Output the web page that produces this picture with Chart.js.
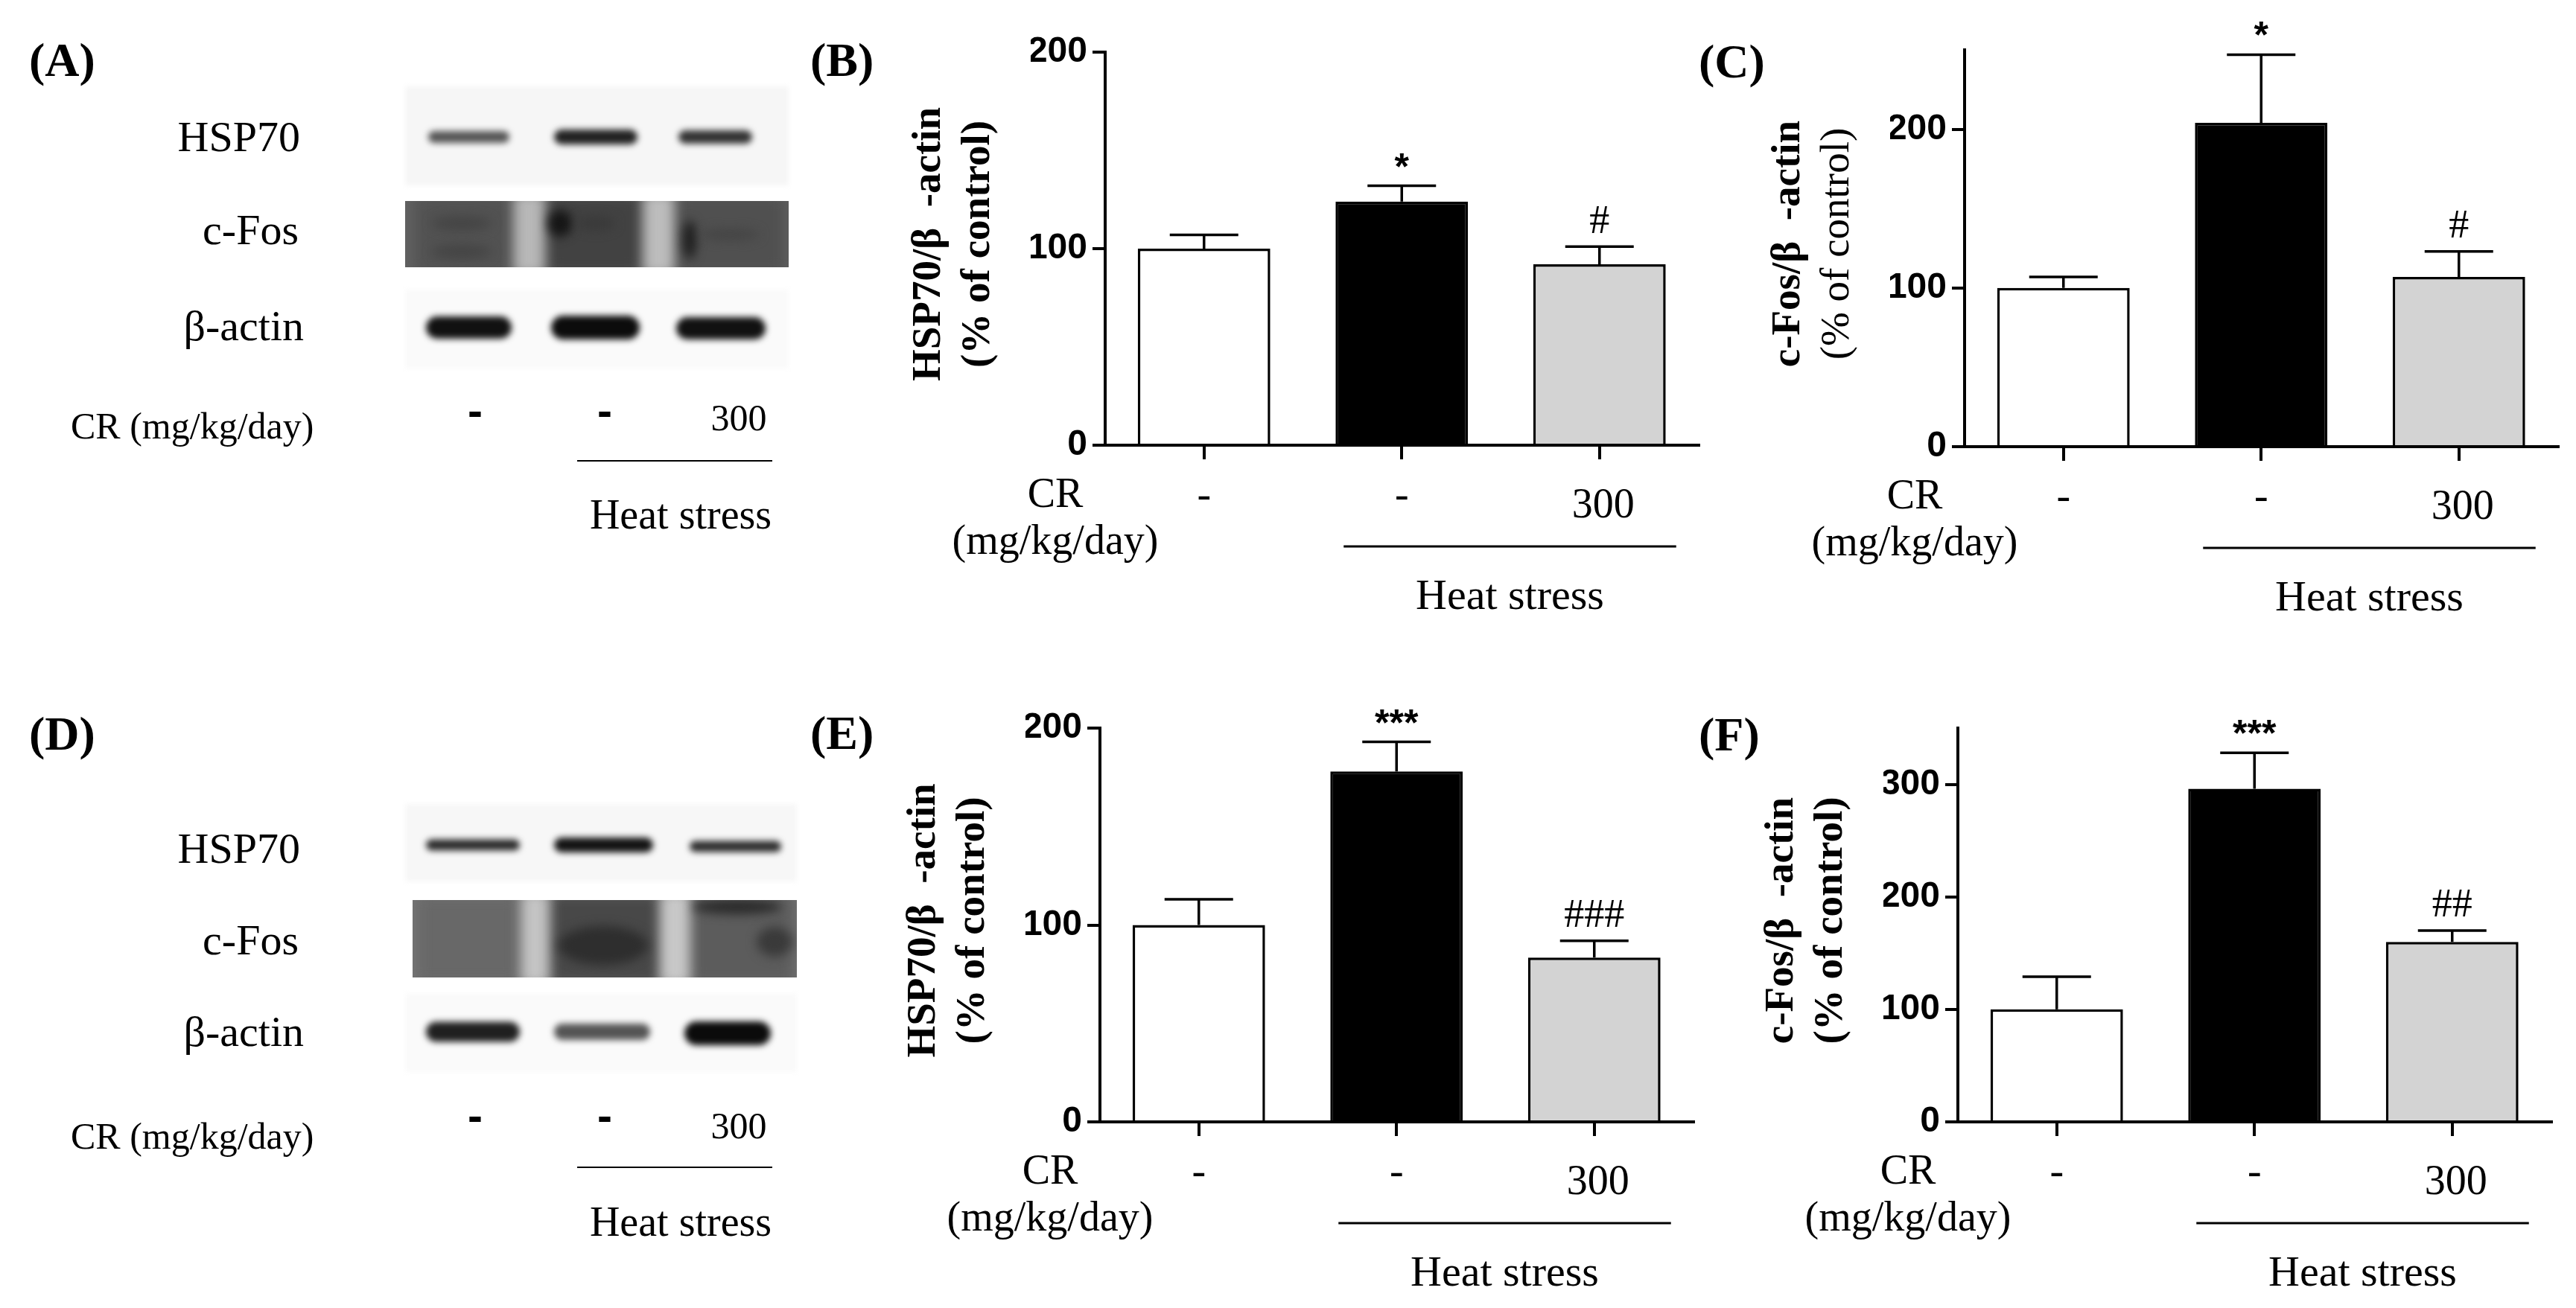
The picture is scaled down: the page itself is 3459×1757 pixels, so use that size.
<!DOCTYPE html>
<html>
<head>
<meta charset="utf-8">
<script src="https://cdn.jsdelivr.net/npm/chart.js@4.4.0/dist/chart.umd.min.js"></script>
<style>
  html, body { margin: 0; padding: 0; background: #fff; }
  #page { position: relative; width: 3459px; height: 1757px; overflow: hidden; background: #fff; }
  .lbl { position: absolute; font-family: "Liberation Serif", "Times New Roman", serif; line-height: 1; white-space: pre; color: #000; }
  .hline { position: absolute; height: 0; border-top: 2px solid #000; }
  canvas { position: absolute; }
</style>
</head>
<body>
<div id="page">
  <canvas id="blots" width="1150" height="1757" style="left:0;top:0;width:1150px;height:1757px"></canvas>
</div>
<script>
// ---- data ----
const groups = ["Control", "Heat stress", "Heat stress + CR"];
const crDoseLabels = ["-", "-", "300"];

// (B) HSP70 / beta-actin, top row
const bMeans = [100, 124, 92];
const bErrors = [7, 8, 9];
const bMarks = ["", "*", "#"];
const bTicks = [0, 100, 200];
const bMax = 200;

// (C) c-Fos / beta-actin, top row
const cMeans = [100, 204, 107];
const cErrors = [7, 43, 16];
const cMarks = ["", "*", "#"];
const cTicks = [0, 100, 200];
const cMax = 250;

// (E) HSP70 / beta-actin, bottom row
const eMeans = [100, 178, 83.5];
const eErrors = [13, 15, 8.5];
const eMarks = ["", "***", "###"];
const eTicks = [0, 100, 200];
const eMax = 200;

// (F) c-Fos / beta-actin, bottom row
const fMeans = [100, 296, 160];
const fErrors = [29, 32, 10];
const fMarks = ["", "***", "##"];
const fTicks = [0, 100, 200, 300];
const fMax = 350;

const barColors = ["#ffffff", "#000000", "#d3d3d3"];
const SERIF = '"Liberation Serif", "Times New Roman", serif';
const SANS = '"Liberation Sans", Arial, sans-serif';

const page = document.getElementById("page");

function addLabel(text, x, y, size, opts) {
  opts = opts || {};
  const d = document.createElement("div");
  d.className = "lbl";
  d.textContent = text;
  d.style.left = x + "px";
  d.style.top = y + "px";
  d.style.fontSize = size + "px";
  if (opts.bold) d.style.fontWeight = "bold";
  if (opts.sans) d.style.fontFamily = SANS;
  const ax = opts.align === "right" ? "-100%" : opts.align === "left" ? "0" : "-50%";
  d.style.transform = "translate(" + ax + ",-50%)";
  page.appendChild(d);
}

function addLine(x0, x1, y) {
  const d = document.createElement("div");
  d.className = "hline";
  d.style.left = x0 + "px";
  d.style.width = (x1 - x0) + "px";
  d.style.top = (y - 1) + "px";
  page.appendChild(d);
}

// ---- panel letters ----
addLabel("(A)", 39, 81, 64, { bold: true, align: "left" });
addLabel("(B)", 1088, 81, 64, { bold: true, align: "left" });
addLabel("(C)", 2281, 83, 64, { bold: true, align: "left" });
addLabel("(D)", 39, 986, 64, { bold: true, align: "left" });
addLabel("(E)", 1088, 985, 64, { bold: true, align: "left" });
addLabel("(F)", 2281, 987, 64, { bold: true, align: "left" });

// ---- western blot panels (A) and (D) ----
function blotLabels(rows) {
  addLabel("HSP70", 403, rows.hsp, 58, { align: "right" });
  addLabel("c-Fos", 401, rows.fos, 58, { align: "right" });
  addLabel("\u03b2-actin", 408, rows.actin, 58, { align: "right" });
  addLabel("CR (mg/kg/day)", 95, rows.cr, 50, { align: "left" });
  addLabel("-", 638, rows.dash, 60, { bold: true, sans: true });
  addLabel("-", 812, rows.dash, 60, { bold: true, sans: true });
  addLabel("300", 992, rows.dose, 50);
  addLine(775, 1037, rows.line);
  addLabel("Heat stress", 914, rows.heat, 56);
}
blotLabels({ hsp: 184, fos: 309, actin: 438, cr: 572, dash: 552, dose: 561, line: 619, heat: 691 });
blotLabels({ hsp: 1140, fos: 1263, actin: 1386, cr: 1526, dash: 1499, dose: 1512, line: 1568, heat: 1641 });

const bctx = document.getElementById("blots").getContext("2d");

function softBox(x, y, w, h, shade) {
  bctx.save();
  bctx.filter = "blur(3px)";
  bctx.fillStyle = shade;
  bctx.fillRect(x, y, w, h);
  bctx.restore();
}

function band(x0, x1, cy, h, shade, blur) {
  bctx.save();
  bctx.filter = "blur(" + blur + "px)";
  bctx.fillStyle = shade;
  bctx.beginPath();
  bctx.roundRect(x0, cy - h / 2, x1 - x0, h, h / 2);
  bctx.fill();
  bctx.restore();
}

function strip(x0, y0, x1, y1, base, lanes, gaps, spots) {
  bctx.save();
  bctx.beginPath();
  bctx.rect(x0, y0, x1 - x0, y1 - y0);
  bctx.clip();
  bctx.fillStyle = base;
  bctx.fillRect(x0, y0, x1 - x0, y1 - y0);
  lanes.forEach(l => {
    bctx.save();
    bctx.filter = "blur(10px)";
    bctx.fillStyle = l[2];
    bctx.fillRect(l[0], y0 - 10, l[1] - l[0], y1 - y0 + 20);
    bctx.restore();
  });
  gaps.forEach(g => {
    bctx.save();
    bctx.filter = "blur(8px)";
    bctx.fillStyle = g[2];
    bctx.fillRect(g[0], y0 - 10, g[1] - g[0], y1 - y0 + 20);
    bctx.restore();
  });
  spots.forEach(s => {
    bctx.save();
    bctx.filter = "blur(7px)";
    bctx.fillStyle = s[4];
    bctx.beginPath();
    bctx.ellipse(s[0], s[1], s[2], s[3], 0, 0, Math.PI * 2);
    bctx.fill();
    bctx.restore();
  });
  bctx.restore();
}

// (A)
softBox(544, 116, 515, 133, "#f6f6f6");
band(575, 684, 184, 16, "rgba(45,45,45,0.8)", 4);
band(744, 856, 184, 20, "#222", 4);
band(911, 1010, 184, 18, "#333", 4);
strip(544, 270, 1059, 359, "#626262",
  [[556, 690, "#525252"], [733, 862, "#424242"], [906, 1055, "#505050"]],
  [[690, 731, "#b8b8b8"], [864, 905, "#bdbdbd"]],
  [[752, 300, 16, 18, "#151515"], [926, 322, 9, 26, "#1e1e1e"], [800, 300, 26, 10, "#3a3a3a"],
   [620, 300, 40, 10, "#454545"], [620, 338, 40, 10, "#454545"], [980, 315, 40, 8, "#454545"]]);
softBox(544, 389, 515, 106, "#fafafa");
band(572, 687, 440, 30, "#111", 4);
band(740, 859, 440, 32, "#0c0c0c", 4);
band(908, 1028, 441, 30, "#111", 4);

// (D)
softBox(544, 1080, 526, 104, "#f7f7f7");
band(572, 698, 1135, 15, "#2a2a2a", 4);
band(744, 877, 1135, 20, "#141414", 4);
band(926, 1049, 1137, 15, "#2c2c2c", 4);
strip(554, 1209, 1070, 1313, "#777777",
  [[558, 700, "#686868"], [737, 887, "#484848"], [926, 1068, "#5c5c5c"]],
  [[700, 737, "#c4c4c4"], [887, 926, "#c8c8c8"]],
  [[810, 1270, 60, 26, "#2e2e2e"], [990, 1218, 60, 10, "#2a2a2a"], [1040, 1265, 24, 20, "#3a3a3a"]]);
softBox(544, 1335, 526, 105, "#fafafa");
band(572, 698, 1386, 27, "#202020", 4);
band(744, 873, 1386, 22, "#555", 4);
band(919, 1035, 1388, 32, "#0b0b0b", 4);

// ---- bar chart panels ----
const CAT_W = 265.5;

function makePanel(p) {
  const padL = 300, padTop = 100, xAxisH = 245, yAxisW = 100;
  const plotW = CAT_W * groups.length;
  const w = Math.round(padL + plotW + 14);
  const h = Math.round(padTop + (p.zero - p.top) + xAxisH);
  const canvas = document.createElement("canvas");
  canvas.width = w;
  canvas.height = h;
  canvas.style.left = (p.axisX - padL) + "px";
  canvas.style.top = (p.top - padTop) + "px";
  canvas.style.width = w + "px";
  canvas.style.height = h + "px";
  page.appendChild(canvas);

  const decor = {
    id: "decor",
    afterDraw(chart) {
      const ctx = chart.ctx;
      const xs = chart.scales.x, ys = chart.scales.y;
      const area = chart.chartArea;
      const meta = chart.getDatasetMeta(0);
      const zero = ys.getPixelForValue(0);
      ctx.save();
      ctx.fillStyle = "#000";
      ctx.strokeStyle = "#000";

      // error bars (mean + SEM, upper side only)
      ctx.lineWidth = 3.5;
      meta.data.forEach((bar, i) => {
        const yTop = ys.getPixelForValue(p.means[i] + p.errors[i]);
        ctx.beginPath();
        ctx.moveTo(bar.x, bar.y);
        ctx.lineTo(bar.x, yTop);
        ctx.moveTo(bar.x - 46, yTop);
        ctx.lineTo(bar.x + 46, yTop);
        ctx.stroke();
        const mark = p.marks[i];
        if (!mark) return;
        const cy = yTop - 37;
        ctx.textAlign = "center";
        ctx.textBaseline = "alphabetic";
        if (mark.indexOf("*") >= 0) {
          ctx.font = "bold 50px " + SANS;
          ctx.fillText(mark, bar.x, cy + 0.56 * 50);
        } else {
          ctx.font = "54px " + SERIF;
          ctx.fillText(mark, bar.x, cy + 0.34 * 54);
        }
      });

      // group labels under the axis
      ctx.textAlign = "center";
      ctx.textBaseline = "alphabetic";
      ctx.font = "56px " + SERIF;
      crDoseLabels.forEach((lab, i) => {
        const x = xs.getPixelForValue(i);
        if (lab === "-") ctx.fillText(lab, x, zero + 71 + 0.23 * 56);
        else ctx.fillText(lab, x + 5, zero + 79 + 0.33 * 56);
      });
      ctx.fillText("CR", area.left - 67, zero + 65 + 0.33 * 56);
      ctx.fillText("(mg/kg/day)", area.left - 67, zero + 132 + 0.25 * 56);

      // heat stress bracket
      const x0 = xs.getPixelForValue(1) - 78;
      const x1 = xs.getPixelForValue(2) + 103;
      ctx.lineWidth = 3;
      ctx.beginPath();
      ctx.moveTo(x0, zero + 136);
      ctx.lineTo(x1, zero + 136);
      ctx.stroke();
      ctx.font = "58px " + SERIF;
      ctx.fillText("Heat stress", (x0 + x1) / 2, zero + 201 + 0.33 * 58);

      // rotated y-axis title, two lines
      const cy = (area.top + area.bottom) / 2 - 6;
      const lines = [
        { text: p.title1, bold: true, cx: area.left - 240, k: 0.33 },
        { text: p.title2, bold: p.title2Bold, cx: area.left - 170, k: 0.25 }
      ];
      lines.forEach(l => {
        ctx.save();
        ctx.font = (l.bold ? "bold " : "") + "55px " + SERIF;
        ctx.translate(l.cx + l.k * 55, cy);
        ctx.rotate(-Math.PI / 2);
        ctx.textAlign = "center";
        ctx.fillText(l.text, 0, 0);
        ctx.restore();
      });
      ctx.restore();
    }
  };

  new Chart(canvas, {
    type: "bar",
    data: {
      labels: groups,
      datasets: [{
        data: p.means,
        backgroundColor: barColors,
        borderColor: "#000",
        borderWidth: 3.5,
        barPercentage: 0.67,
        categoryPercentage: 1
      }]
    },
    options: {
      responsive: false,
      devicePixelRatio: 1,
      animation: false,
      events: [],
      layout: { padding: { left: padL - yAxisW, right: w - padL - plotW, top: padTop, bottom: 0 } },
      plugins: { legend: { display: false }, tooltip: { enabled: false } },
      scales: {
        x: {
          offset: true,
          grid: { display: true, drawOnChartArea: false, drawTicks: true, tickLength: 19, offset: false, color: "#000", lineWidth: 4 },
          border: { display: true, color: "#000", width: 4 },
          ticks: { display: false },
          afterFit(scale) { scale.height = xAxisH; }
        },
        y: {
          min: 0,
          max: p.max,
          grid: { display: true, drawOnChartArea: false, drawTicks: true, tickLength: 17, color: "#000", lineWidth: 4 },
          border: { display: true, color: "#000", width: 4 },
          ticks: { color: "#000", padding: 7, font: { family: SANS, weight: "bold", size: 48 } },
          afterBuildTicks(scale) { scale.ticks = p.ticks.map(v => ({ value: v })); },
          afterFit(scale) { scale.width = yAxisW; }
        }
      }
    },
    plugins: [decor]
  });
}

makePanel({ axisX: 1484, top: 70, zero: 598, means: bMeans, errors: bErrors, marks: bMarks, ticks: bTicks, max: bMax,
  title1: "HSP70/\u03b2  -actin", title2: "(% of control)", title2Bold: true });
makePanel({ axisX: 2638, top: 67, zero: 600, means: cMeans, errors: cErrors, marks: cMarks, ticks: cTicks, max: cMax,
  title1: "c-Fos/\u03b2  -actin", title2: "(% of control)", title2Bold: false });
makePanel({ axisX: 1477, top: 978, zero: 1507, means: eMeans, errors: eErrors, marks: eMarks, ticks: eTicks, max: eMax,
  title1: "HSP70/\u03b2  -actin", title2: "(% of control)", title2Bold: true });
makePanel({ axisX: 2629, top: 978, zero: 1507, means: fMeans, errors: fErrors, marks: fMarks, ticks: fTicks, max: fMax,
  title1: "c-Fos/\u03b2  -actin", title2: "(% of control)", title2Bold: true });
</script>
</body>
</html>
